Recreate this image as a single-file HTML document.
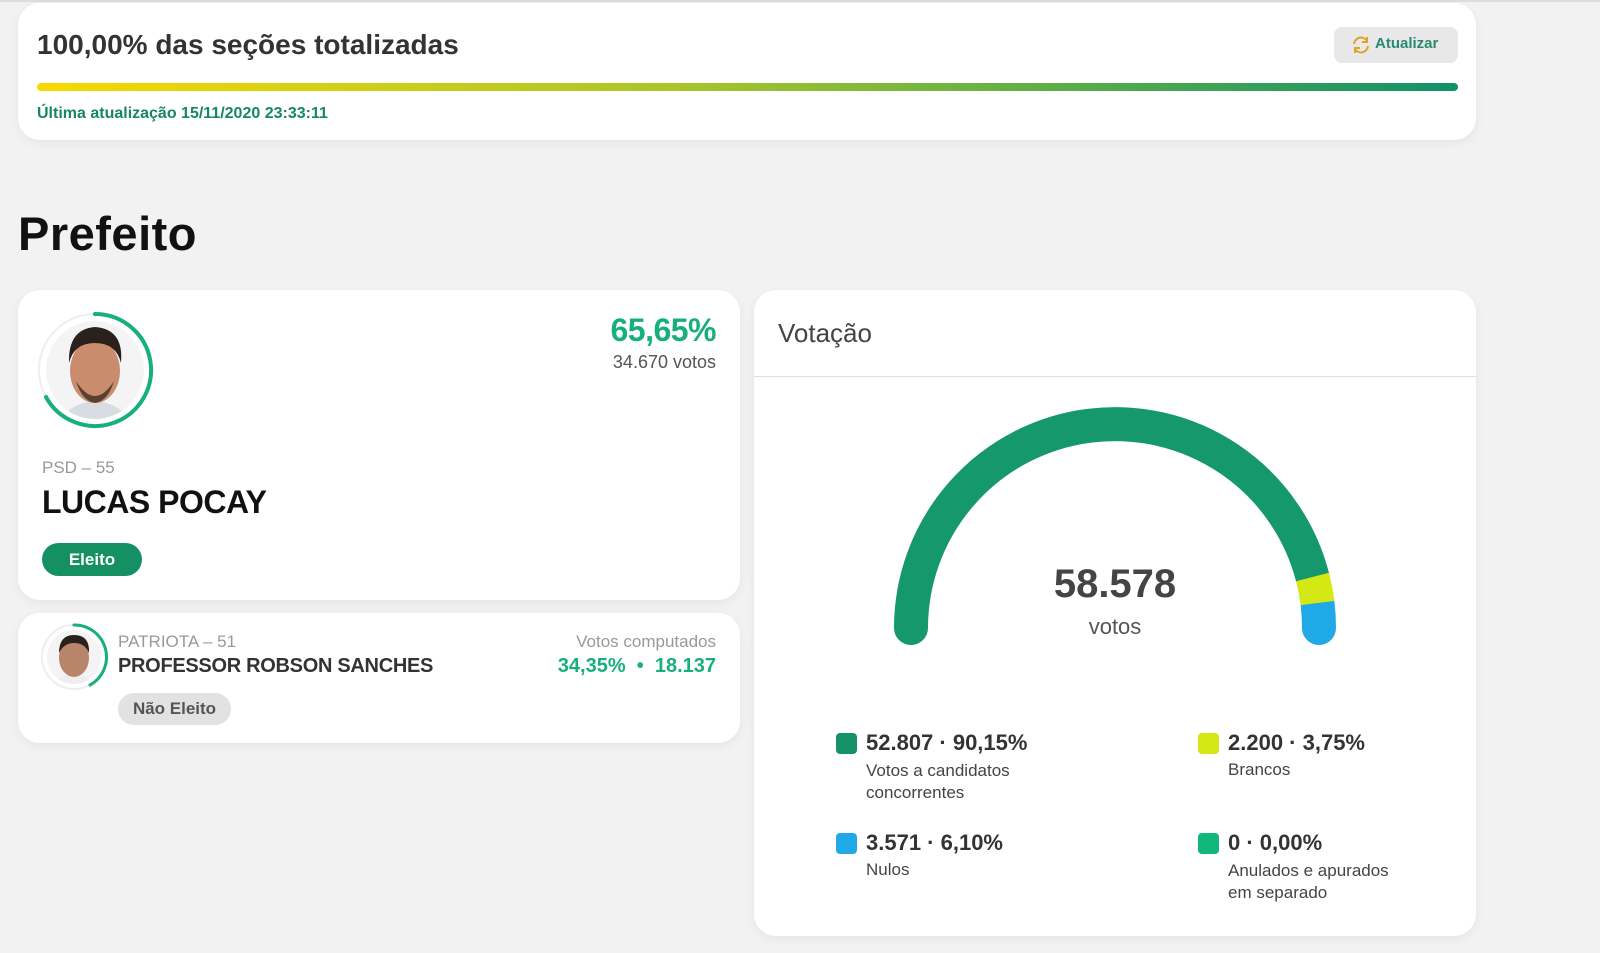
<!DOCTYPE html>
<html><head><meta charset="utf-8"><style>
*{margin:0;padding:0;box-sizing:border-box}
body{width:1600px;height:953px;background:#f2f2f2;font-family:"Liberation Sans",sans-serif;position:relative;overflow:hidden}
.a{position:absolute;white-space:nowrap}
.card{position:absolute;background:#fff;border-radius:22px;box-shadow:0 3px 10px rgba(0,0,0,.06)}
.sq{position:absolute;width:21px;height:21px;border-radius:4px}
</style></head><body>
<div style="position:absolute;left:0;top:0;width:1600px;height:2px;background:#ddd"></div>
<div class="card" style="left:18px;top:3px;width:1458px;height:137px"></div>
<div class="a" style="left:37px;top:29px;font-size:28px;font-weight:bold;color:#333;letter-spacing:0px">100,00% das seções totalizadas</div>
<div class="a" style="left:1334px;top:27px;width:124px;height:36px;background:#e8e8e8;border-radius:8px"></div>
<svg class="a" style="left:1351px;top:35px" width="20" height="20" viewBox="0 0 20 20"><path d="M3 9 A7 7 0 0 1 16 6" fill="none" stroke="#e0a526" stroke-width="2"/><path d="M17 11 A7 7 0 0 1 4 14" fill="none" stroke="#e0a526" stroke-width="2"/><path d="M16 2 L16 7 L11 7" fill="none" stroke="#e0a526" stroke-width="2"/><path d="M4 18 L4 13 L9 13" fill="none" stroke="#e0a526" stroke-width="2"/></svg>
<div class="a" style="left:1375px;top:35px;font-size:15px;font-weight:bold;color:#2a8a70">Atualizar</div>
<div class="a" style="left:37px;top:83px;width:1421px;height:8px;border-radius:4px;background:linear-gradient(90deg,#f7d900,#a9c52a 45%,#52ab4b 75%,#10916a)"></div>
<div class="a" style="left:37px;top:105px;font-size:16px;font-weight:bold;color:#16875f">Última atualização 15/11/2020 23:33:11</div>

<div class="a" style="left:18px;top:206px;font-size:47px;font-weight:bold;color:#111;letter-spacing:0.5px">Prefeito</div>

<div class="card" style="left:18px;top:290px;width:722px;height:310px"></div>
<svg class="a" style="left:36px;top:311px" width="118" height="118" viewBox="0 0 118 118">
<circle cx="59" cy="59" r="56" fill="#fff" stroke="#eee" stroke-width="2"/>
<clipPath id="c1"><circle cx="59" cy="59" r="49"/></clipPath>
<g clip-path="url(#c1)"><rect width="118" height="118" fill="#f4f4f4"/><path d="M20 118 Q30 92 59 90 Q88 92 98 118Z" fill="#d8dde2"/><ellipse cx="59" cy="60" rx="25" ry="32" fill="#c98d6e"/><path d="M33 52 Q32 18 59 16 Q88 18 85 52 Q80 32 59 32 Q38 32 33 52Z" fill="#2b211c"/><path d="M40 70 Q59 100 78 70 Q72 90 59 92 Q46 90 40 70Z" fill="#5a3f33"/></g>
<path d="M59 3 A56 56 0 1 1 10 86" fill="none" stroke="#17b07b" stroke-width="4" stroke-linecap="round"/>
</svg>
<div class="a" style="right:884px;top:312px;font-size:32px;font-weight:bold;color:#17b07b;letter-spacing:-0.5px">65,65%</div>
<div class="a" style="right:884px;top:352px;font-size:18px;color:#555">34.670 votos</div>
<div class="a" style="left:42px;top:458px;font-size:17px;color:#999">PSD – 55</div>
<div class="a" style="left:42px;top:484px;font-size:32px;font-weight:bold;color:#111;letter-spacing:-0.5px">LUCAS POCAY</div>
<div class="a" style="left:42px;top:543px;width:100px;height:33px;border-radius:17px;background:#158f64;color:#fff;font-weight:bold;font-size:17px;text-align:center;line-height:33px">Eleito</div>

<div class="card" style="left:18px;top:613px;width:722px;height:130px"></div>
<svg class="a" style="left:40px;top:623px" width="68" height="68" viewBox="0 0 68 68">
<circle cx="34" cy="34" r="32" fill="#fff" stroke="#eee" stroke-width="2"/>
<clipPath id="c2"><circle cx="34" cy="34" r="27"/></clipPath>
<g clip-path="url(#c2)"><rect width="68" height="68" fill="#f4f4f4"/><path d="M10 68 Q16 52 34 51 Q52 52 58 68Z" fill="#eee"/><ellipse cx="34" cy="35" rx="15" ry="19" fill="#b9856a"/><path d="M19 30 Q19 12 34 12 Q50 12 49 30 Q45 20 34 20 Q24 20 19 30Z" fill="#2b211c"/></g>
<path d="M34 2 A32 32 0 0 1 50 62" fill="none" stroke="#17b07b" stroke-width="3" stroke-linecap="round"/>
</svg>
<div class="a" style="left:118px;top:632px;font-size:17px;color:#999">PATRIOTA – 51</div>
<div class="a" style="left:118px;top:655px;font-size:20px;font-weight:bold;color:#333;letter-spacing:-0.3px">PROFESSOR ROBSON SANCHES</div>
<div class="a" style="left:118px;top:693px;width:113px;height:32px;border-radius:16px;background:#e2e2e2;color:#555;font-weight:bold;font-size:17px;text-align:center;line-height:32px">Não Eleito</div>
<div class="a" style="right:884px;top:632px;font-size:17px;color:#999">Votos computados</div>
<div class="a" style="right:884px;top:655px;font-size:20px;font-weight:bold;color:#17b07b">34,35% &nbsp;•&nbsp; 18.137</div>

<div class="card" style="left:754px;top:290px;width:722px;height:646px"></div>
<div class="a" style="left:778px;top:318px;font-size:26px;color:#444">Votação</div>
<div class="a" style="left:754px;top:376px;width:722px;height:1px;background:#e0e0e0"></div>
<svg class="a" style="left:0;top:0" width="1600" height="953">
<path d="M911 628 A204 204 0 0 1 1312.5 577" fill="none" stroke="#15986b" stroke-width="34" stroke-linecap="round"/>
<path d="M1317.5 603 A204 204 0 0 1 1319 628" fill="none" stroke="#1fa9e6" stroke-width="34" stroke-linecap="round"/>
<path d="M1312.5 577 A204 204 0 0 1 1317.5 603" fill="none" stroke="#d4e814" stroke-width="34"/>
</svg>
<div class="a" style="left:1015px;top:562px;width:200px;text-align:center;font-size:40px;font-weight:bold;color:#444">58.578</div>
<div class="a" style="left:1015px;top:614px;width:200px;text-align:center;font-size:22px;color:#555">votos</div>

<div class="sq" style="left:836px;top:733px;background:#15926a"></div>
<div class="a" style="left:866px;top:730px;font-size:22px;font-weight:bold;color:#333">52.807 · 90,15%</div>
<div class="a" style="left:866px;top:760px;font-size:17px;color:#444;line-height:22px">Votos a candidatos<br>concorrentes</div>
<div class="sq" style="left:1198px;top:733px;background:#d4e814"></div>
<div class="a" style="left:1228px;top:730px;font-size:22px;font-weight:bold;color:#333">2.200 · 3,75%</div>
<div class="a" style="left:1228px;top:760px;font-size:17px;color:#444">Brancos</div>
<div class="sq" style="left:836px;top:833px;background:#1fa9e6"></div>
<div class="a" style="left:866px;top:830px;font-size:22px;font-weight:bold;color:#333">3.571 · 6,10%</div>
<div class="a" style="left:866px;top:860px;font-size:17px;color:#444">Nulos</div>
<div class="sq" style="left:1198px;top:833px;background:#12b77b"></div>
<div class="a" style="left:1228px;top:830px;font-size:22px;font-weight:bold;color:#333">0 · 0,00%</div>
<div class="a" style="left:1228px;top:860px;font-size:17px;color:#444;line-height:22px">Anulados e apurados<br>em separado</div>
</body></html>
